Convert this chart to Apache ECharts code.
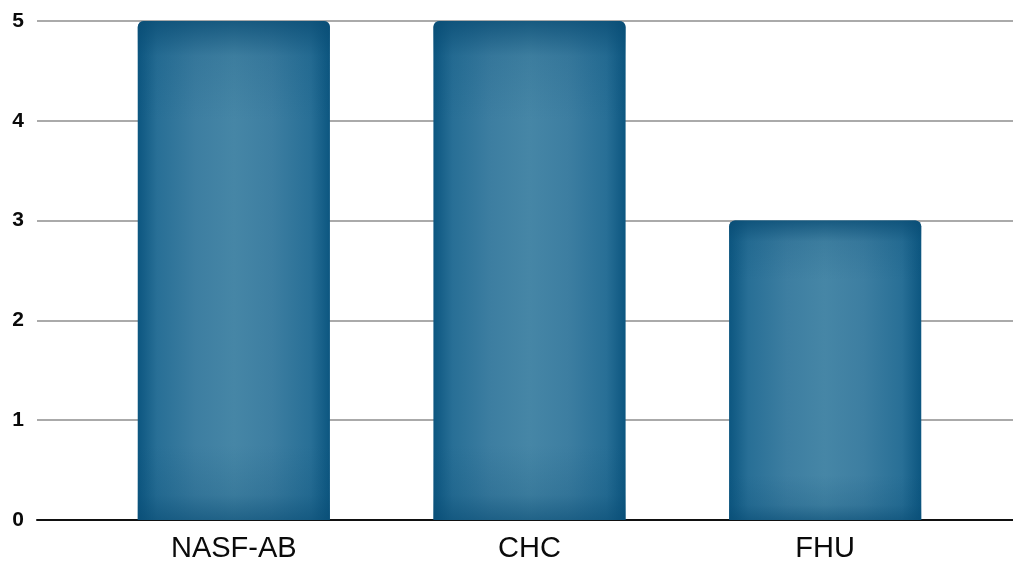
<!DOCTYPE html>
<html>
<head>
<meta charset="utf-8">
<script src="https://cdn.jsdelivr.net/npm/echarts@6/dist/echarts.min.js"></script>
<style>
  html, body { margin: 0; padding: 0; background: #fff; }
  #main { width: 1013px; height: 563px; }
</style>
</head>
<body>
<div id="main"></div>
<script>
var categories = ['NASF-AB', 'CHC', 'FHU'];
var values = [5, 5, 3];
var yTicks = [0, 1, 2, 3, 4, 5];

var myChart = echarts.init(document.getElementById('main'));

// side shading: dark edges, lighter middle
var barFill = new echarts.graphic.LinearGradient(0, 0, 1, 0, [
    { offset: 0, color: '#0c5680' },
    { offset: 0.1, color: '#286f96' },
    { offset: 0.3, color: '#3d7ea1' },
    { offset: 0.5, color: '#4686a6' },
    { offset: 0.7, color: '#3d7ea1' },
    { offset: 0.9, color: '#286f96' },
    { offset: 1, color: '#0c5680' }
]);
// top / bottom darkening laid over the same bars
var barShade = new echarts.graphic.LinearGradient(0, 0, 0, 1, [
    { offset: 0, color: 'rgba(8,75,115,0.75)' },
    { offset: 0.07, color: 'rgba(8,75,115,0.15)' },
    { offset: 0.2, color: 'rgba(8,75,115,0)' },
    { offset: 0.85, color: 'rgba(8,75,115,0)' },
    { offset: 0.95, color: 'rgba(8,75,115,0.2)' },
    { offset: 1, color: 'rgba(8,75,115,0.6)' }
]);

var option = {
    animation: false,
    grid: [
        // bars
        { left: 86, right: 40, top: 21, bottom: 43 },
        // grid lines + labels, full width
        { left: 37, right: 0, top: 21, bottom: 43 }
    ],
    xAxis: [
        {
            type: 'category',
            gridIndex: 0,
            data: categories,
            axisLine: { show: false },
            axisTick: { show: false },
            axisLabel: {
                margin: 14,
                fontSize: 29,
                color: '#0a0a0a',
                fontFamily: 'Liberation Sans, Arial, sans-serif'
            }
        },
        {
            type: 'value',
            gridIndex: 1,
            min: 0, max: 1,
            axisLine: { show: true, lineStyle: { color: '#111', width: 2 } },
            axisTick: { show: false },
            axisLabel: { show: false },
            splitLine: { show: false }
        }
    ],
    yAxis: [
        {
            type: 'value',
            gridIndex: 0,
            min: 0, max: yTicks[yTicks.length - 1],
            interval: 1,
            axisLine: { show: false },
            axisTick: { show: false },
            axisLabel: { show: false },
            splitLine: { show: false }
        },
        {
            type: 'value',
            gridIndex: 1,
            min: yTicks[0], max: yTicks[yTicks.length - 1],
            interval: 1,
            axisLine: { show: false },
            axisTick: { show: false },
            axisLabel: {
                margin: 13,
                fontSize: 21,
                fontWeight: 'bold',
                color: '#0a0a0a',
                fontFamily: 'Liberation Sans, Arial, sans-serif'
            },
            splitLine: { show: true, lineStyle: { color: '#aaa', width: 2 } }
        }
    ],
    series: [
        {
            type: 'bar',
            xAxisIndex: 0,
            yAxisIndex: 0,
            barWidth: '65%',
            data: values,
            itemStyle: {
                color: barFill,
                borderRadius: [6, 6, 0, 0]
            },
            z: 3
        },
        {
            type: 'bar',
            xAxisIndex: 0,
            yAxisIndex: 0,
            barWidth: '65%',
            barGap: '-100%',
            data: values,
            itemStyle: {
                color: barShade,
                borderRadius: [6, 6, 0, 0]
            },
            silent: true,
            z: 4
        }
    ]
};
myChart.setOption(option);
</script>
</body>
</html>
